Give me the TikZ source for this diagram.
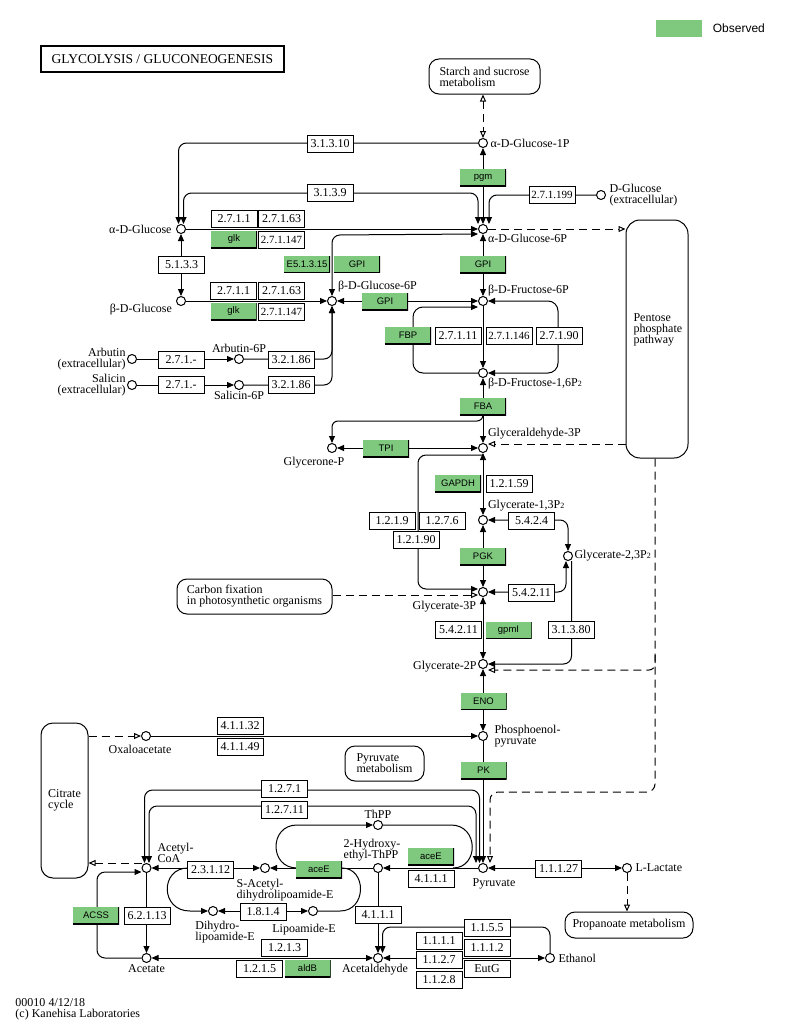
\documentclass[tikz,border=0pt]{standalone}
\usepackage{fontspec}
\setmainfont{Liberation Serif}
\newfontfamily\genefont{Liberation Sans}
\usetikzlibrary{arrows.meta}
\usetikzlibrary{calc}
\definecolor{kgreen}{RGB}{127,201,127}
\newcommand{\kfont}{\fontsize{12}{11}\selectfont}
\newcommand{\gfont}{\genefont\fontsize{9.5}{10}\selectfont}
\newcommand{\subtwo}{{\fontsize{8}{8}\selectfont 2}}

\begin{document}
\begin{tikzpicture}[x=1pt, y=-1pt, line width=1pt, font=\kfont,
  >={Triangle[length=7pt,width=6pt]},
  otip/.tip={Triangle[open,length=7pt,width=6pt]},
  cpd/.style={circle, draw, fill=white, minimum size=9pt, inner sep=0pt},
  lbl/.style={inner sep=1pt, align=left},
  enz/.style={draw, fill=white, minimum width=46pt, minimum height=17pt, inner sep=0pt},
  enzs/.style={enz, font=\fontsize{11}{11}\selectfont},
  gene/.style={fill=kgreen, minimum width=46pt, minimum height=17pt, inner sep=0pt, font=\gfont,
    path picture={\draw[line width=2pt] (path picture bounding box.south west) -- (path picture bounding box.south east) -- (path picture bounding box.north east);}},
  pmap/.style={draw, rounded corners=10pt, align=left, inner sep=0pt},
  opn/.style={dash pattern=on 8pt off 5pt, -otip}]

  \useasboundingbox (0,0) rectangle (796,1025);

  % title, legend, footer
  \node[draw, line width=2pt, minimum width=243pt, minimum height=26pt, inner sep=0pt,
        font=\fontsize{13.5}{14}\selectfont] (title) at (162.5,59) {GLYCOLYSIS / GLUCONEOGENESIS};
  \node[fill=kgreen, minimum width=46pt, minimum height=17pt, inner sep=0pt] (legbox) at (679,28.5) {};
  \node[anchor=west, font=\genefont\fontsize{12}{12}\selectfont] (legtxt) at (709,28.5) {Observed};
  \node[lbl, anchor=west] (foot) at (14,1009) {00010 4/12/18\\(c) Kanehisa Laboratories};

  % pathway maps
  \node[pmap, minimum width=111pt, minimum height=35pt] (sta) at (484.5,76.5) {Starch and sucrose\\metabolism};
  \node[pmap, rounded corners=14pt, minimum width=62pt, minimum height=238pt] (ppp) at (657,339) {};
  \node[lbl, anchor=north west] (ppptxt) at (632,312) {Pentose\\phosphate\\pathway};
  \node[pmap, minimum width=155pt, minimum height=35pt] (cfix) at (254.5,596.5) {Carbon fixation\\in photosynthetic organisms};
  \node[pmap, rounded corners=12pt, minimum width=47pt, minimum height=155pt] (cit) at (64.5,800.5) {Citrate\\cycle};
  \node[pmap, minimum width=79pt, minimum height=35pt] (pyrm) at (384.5,763.5) {Pyruvate\\metabolism};
  \node[pmap, minimum width=128pt, minimum height=26pt] (prop) at (629,925) {Propanoate metabolism};

  % compounds
  \node[cpd, label={[lbl,xshift=1pt]right:α-D-Glucose-1P}] (g1p) at (483,143) {};
  \node[cpd, label={[lbl]below right:α-D-Glucose-6P}] (g6p) at (483,229) {};
  \node[cpd, label={[lbl,xshift=2pt]right:{D-Glucose\\(extracellular)}}] (dglcx) at (601,195) {};
  \node[cpd, label={[lbl,xshift=-3pt]left:α-D-Glucose}] (aglc) at (181,229) {};
  \node[cpd, label={[lbl,xshift=-4pt,yshift=2pt]below left:β-D-Glucose}] (bglc) at (181,301) {};
  \node[cpd, label={[lbl,xshift=1pt,yshift=4pt]above right:β-D-Glucose-6P}] (bg6p) at (332,301) {};
  \node[cpd, label={[lbl]above right:β-D-Fructose-6P}] (f6p) at (483,301) {};
  \node[cpd, label={[lbl]below right:{β-D-Fructose-1,6P\subtwo}}] (fbp) at (483,373) {};
  \node[cpd, label={[lbl,yshift=4pt]above right:Glyceraldehyde-3P}] (gap) at (483,448) {};
  \node[cpd, label={[lbl,xshift=-18pt,yshift=-3pt]below:Glycerone-P}] (dhap) at (332,448) {};
  \node[cpd, label={[lbl,yshift=4pt]above right:{Glycerate-1,3P\subtwo}}] (g13p) at (483,520) {};
  \node[cpd, label={[lbl]right:{Glycerate-2,3P\subtwo}}] (g23p) at (568,556) {};
  \node[cpd, label={[lbl,xshift=-2pt,yshift=-4pt]below left:Glycerate-3P}] (g3p) at (483,592) {};
  \node[cpd, label={[lbl,yshift=-3pt]left:Glycerate-2P}] (g2p) at (483,664) {};
  \node[cpd, label={[lbl,xshift=5pt]right:{Phosphoenol-\\pyruvate}}] (pep) at (483,736) {};
  \node[cpd, label={[lbl,xshift=-6pt,yshift=-3pt]below:Oxaloacetate}] (oaa) at (146,736) {};
  \node[cpd, label={[lbl,xshift=11pt,yshift=-4pt]below:Pyruvate}] (pyr) at (483,868) {};
  \node[cpd, label={[lbl,xshift=2pt]right:L-Lactate}] (lac) at (627,868) {};
  \node[cpd, label={[lbl,xshift=-6pt]above:{2-Hydroxy-\\ethyl-ThPP}}] (hetpp) at (378,868) {};
  \node[cpd, label={[lbl]above:ThPP}] (thpp) at (378,825) {};
  \node[cpd, label={[lbl,xshift=20pt,yshift=-5pt]below:{S-Acetyl-\\dihydrolipoamide-E}}] (sacd) at (265,868) {};
  \node[cpd, label={[lbl,xshift=6pt]above right:{Acetyl-\\CoA}}] (accoa) at (146.5,868) {};
  \node[cpd, label={[lbl,xshift=12pt,yshift=-4pt]below:{Dihydro-\\lipoamide-E}}] (dhle) at (213,911) {};
  \node[cpd, label={[lbl,xshift=-9pt,yshift=-7pt]below:Lipoamide-E}] (lipe) at (313,911) {};
  \node[cpd, label={[lbl]below:Acetate}] (ace) at (146.5,958) {};
  \node[cpd, label={[lbl,xshift=-3pt]below:Acetaldehyde}] (acald) at (378,958) {};
  \node[cpd, label={[lbl,xshift=2pt]right:Ethanol}] (etoh) at (550,958) {};
  \node[cpd, label={[lbl,align=right]left:{Arbutin\\(extracellular)}}] (arbx) at (132,359) {};
  \node[cpd, label={[lbl]above:Arbutin-6P}] (arb6p) at (239,359) {};
  \node[cpd, label={[lbl,align=right]left:{Salicin\\(extracellular)}}] (salx) at (132,385) {};
  \node[cpd, label={[lbl]below:Salicin-6P}] (sal6p) at (239,385) {};

  \coordinate (fbaout) at (483,413);
  \coordinate (gapout) at (483,455);
  \coordinate (pppout) at (655,655);
  \coordinate (thpin) at (297,868);
  \coordinate (thpout) at (453,868);
  \coordinate (lipin) at (188,868);
  \coordinate (lipout) at (342,868);

  % straight reactions
  \path (g1p) edge[<->] (g6p)
        (aglc) edge[->] (g6p)
        (aglc) edge[<->] (bglc)
        (bglc) edge[->] (bg6p)
        (g6p) edge[<->] (f6p)
        (bg6p) edge[<->] (f6p)
        (f6p) edge[->] (fbp)
        (fbp) edge[<->] (gap)
        (dhap) edge[<->] (gap)
        (gap) edge[<->] (g13p)
        (g13p) edge[<->] (g3p)
        (g3p) edge[<->] (g2p)
        (g2p) edge[<->] (pep)
        (oaa) edge[->] (pep)
        (pep) edge[->] (pyr)
        (pyr) edge[<->] (lac)
        (pyr) edge[->] (hetpp)
        (hetpp) edge[->] (sacd)
        (accoa) edge[<->] (sacd)
        (dhle) edge[<->] (lipe)
        (accoa) edge[->] (ace)
        (acald) edge[<->] (ace)
        (hetpp) edge[->] (acald)
        (acald) edge[<->] (etoh)
        (arbx) edge[->] (arb6p)
        (salx) edge[->] (sal6p);

  % bent reactions
  \draw[->, rounded corners=8pt] (g1p) -- (178.5,143) -- ($(aglc.north)+(-2.5,0)$);
  \draw[<->, rounded corners=8pt] ($(aglc.north)+(2.5,0)$) -- (183.5,193) -- (478,193) -- ($(g6p.north)+(-5,0)$);
  \draw[->, rounded corners=8pt] (dglcx) -- (489,195) -- ($(g6p.north)+(6,0)$);
  \draw[<->, rounded corners=8pt] (bg6p) -- (332,235) -- ($(g6p.west)+(0,5)$);
  \draw[->, rounded corners=8pt] (arb6p) -- (332,359) -- (bg6p);
  \draw[->, rounded corners=8pt] (sal6p) -- (332,385) -- (bg6p);
  \draw[->, rounded corners=10pt] (fbp) -- (413,373) -- (413,307) -- ($(f6p.west)+(0,6)$);
  \draw[<->, rounded corners=10pt] (f6p) -- (558,301) -- (558,373) -- (fbp);
  \draw[->, rounded corners=6pt] (fbaout) -- (483,421) -- (332,421) -- (dhap);
  \draw[->, rounded corners=8pt] (gapout) -- (418,455) -- (418,589) -- ($(g3p.west)+(0,-3)$);
  \draw[<->, rounded corners=8pt] (g13p) -- (568,520) -- (g23p);
  \draw[<->, rounded corners=8pt] (g3p) -- (566,592) -- ($(g23p.south)+(-2,0)$);
  \draw[->, rounded corners=8pt] ($(g23p.south)+(3.5,0)$) -- (571.5,664) -- (g2p);
  \draw[<->, rounded corners=8pt] ($(accoa.north)+(-2,0)$) -- (144.5,790) -- (479.5,790) -- ($(pyr.north)+(-3.5,0)$);
  \draw[<->, rounded corners=8pt] ($(accoa.north)+(2.5,0)$) -- (149,806) -- (476,806) -- ($(pyr.north)+(-7,0)$);
  \draw[->] (thpin) .. controls (269,868) and (269,825) .. (297,825) -- (thpp);
  \draw (thpp) -- (451,825) .. controls (479,825) and (479,868) .. (thpout);
  \draw[->] (lipin) .. controls (160,868) and (160,911) .. (190,911) -- (dhle);
  \draw (lipe) -- (340,911) .. controls (367,911) and (367,868) .. (lipout);
  \draw[->, rounded corners=8pt] (ace) -- (97,958) -- (97,872) -- ($(accoa.west)+(0,4)$);
  \draw[->, rounded corners=8pt] (etoh) -- (550,927) -- (382.5,927) -- ($(acald.north)+(4.5,0)$);

  % links to other maps
  \draw[dash pattern=on 8pt off 5pt, otip-otip] (sta.south -| g1p) -- (g1p);
  \draw[opn] (g6p) -- (ppp.west |- g6p);
  \draw[opn] ($(ppp.west |- gap)+(0,-4)$) -- ($(gap.east)+(0,-4)$);
  \draw[opn, rounded corners=8pt] ($(ppp.south)+(-2,0)$) -- (655,792) -- (490,792) -- ($(pyr.north)+(7,0)$);
  \draw[opn, rounded corners=6pt] (pppout) -- (655,670) -- ($(g2p.east)+(0,6)$);
  \draw[opn] ($(cfix.east |- g3p)+(0,3)$) -- ($(g3p.west)+(0,3)$);
  \draw[opn] (cit.east |- oaa) -- (oaa);
  \draw[opn] ($(accoa.west)+(0,-5)$) -- ($(cit.east |- accoa)+(0,-5)$);
  \draw[opn] (lac) -- (lac |- prop.north);

  % enzymes
  \node[enz] (e31310) at (330,144) {3.1.3.10};
  \node[enz] (e3139) at (330,193) {3.1.3.9};
  \node[gene] (pgm) at (483,177.5) {pgm};
  \node[enzs] (e271199) at (552,195) {2.7.1.199};
  \node[enz] (a2711) at (234,218.5) {2.7.1.1};
  \node[enz] (a27163) at (281.5,218.5) {2.7.1.63};
  \node[gene] (aglk) at (234,239.5) {glk};
  \node[enzs] (a271147) at (281.5,239.5) {2.7.1.147};
  \node[enz] (e5133) at (181.5,264.5) {5.1.3.3};
  \node[gene] (e51315) at (307,264) {E5.1.3.15};
  \node[gene] (gpia) at (357,264) {GPI};
  \node[gene] (gpib) at (483,264.5) {GPI};
  \node[enz] (b2711) at (233.5,291) {2.7.1.1};
  \node[enz] (b27163) at (281.5,291) {2.7.1.63};
  \node[gene] (bglk) at (233.5,311.5) {glk};
  \node[enzs] (b271147) at (281.5,311.5) {2.7.1.147};
  \node[gene] (gpic) at (385,301.5) {GPI};
  \node[gene] (fbpe) at (408,335.5) {FBP};
  \node[enz] (e27111) at (458,336) {2.7.1.11};
  \node[enzs] (e271146) at (509,336) {2.7.1.146};
  \node[enz] (e27190) at (559,336) {2.7.1.90};
  \node[gene] (fba) at (483,406.5) {FBA};
  \node[gene] (tpi) at (386,448.5) {TPI};
  \node[gene] (gapdh) at (458,483.5) {GAPDH};
  \node[enz] (e12159) at (509,484) {1.2.1.59};
  \node[enz] (e1219) at (392,521) {1.2.1.9};
  \node[enz] (e1276) at (442,521) {1.2.7.6};
  \node[enz] (e12190) at (416,540) {1.2.1.90};
  \node[enz] (e5424) at (531.5,521) {5.4.2.4};
  \node[gene] (pgk) at (483,556.5) {PGK};
  \node[enz] (e54211a) at (531.5,592.5) {5.4.2.11};
  \node[enz] (e54211b) at (458.5,630) {5.4.2.11};
  \node[gene] (gpmi) at (508.5,630) {gpmI};
  \node[enz] (e31380) at (571,630) {3.1.3.80};
  \node[gene] (eno) at (483.5,701) {ENO};
  \node[enz] (e41132) at (240,726) {4.1.1.32};
  \node[enz] (e41149) at (240,746.5) {4.1.1.49};
  \node[gene] (pk) at (483.5,770.5) {PK};
  \node[enz] (e1271) at (284.5,789) {1.2.7.1};
  \node[enz] (e12711) at (284.5,810) {1.2.7.11};
  \node[gene] (aceea) at (319,869.5) {aceE};
  \node[gene] (aceeb) at (431,856.5) {aceE};
  \node[enz] (e4111a) at (431,878.5) {4.1.1.1};
  \node[enz] (e11127) at (558.5,868.5) {1.1.1.27};
  \node[enz] (e23112) at (210.5,869.5) {2.3.1.12};
  \node[enz] (e1814) at (263,911.5) {1.8.1.4};
  \node[enz] (e62113) at (147,916) {6.2.1.13};
  \node[gene] (acss) at (96,915.5) {ACSS};
  \node[enz] (e4111b) at (378,915) {4.1.1.1};
  \node[enz] (e1213) at (284.5,947.5) {1.2.1.3};
  \node[enz] (e1215) at (259.5,968.5) {1.2.1.5};
  \node[gene] (aldb) at (307.5,968.5) {aldB};
  \node[enz] (e1155) at (487,927.5) {1.1.5.5};
  \node[enz] (e1111) at (439,941) {1.1.1.1};
  \node[enz] (e1112) at (487,947.5) {1.1.1.2};
  \node[enz] (e1127) at (439,960) {1.1.2.7};
  \node[enz] (eutg) at (487,968.5) {EutG};
  \node[enz] (e1128) at (439,979.5) {1.1.2.8};
  \node[enz] (e271a) at (181,359.5) {2.7.1.-};
  \node[enz] (e32186a) at (291,359.5) {3.2.1.86};
  \node[enz] (e271b) at (181,385) {2.7.1.-};
  \node[enz] (e32186b) at (291,385) {3.2.1.86};

\end{tikzpicture}
\end{document}
